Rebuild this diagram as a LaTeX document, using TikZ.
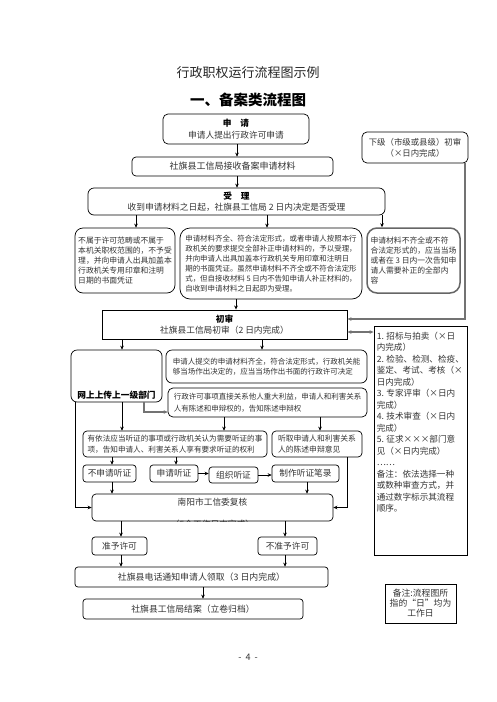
\documentclass[tikz,border=0pt]{standalone}
\usepackage{fontspec}
\setmainfont{Noto Sans CJK SC}
\usetikzlibrary{arrows.meta,calc}
\newcommand\myfs[2]{\fontsize{#1}{#2}\selectfont}
\begin{document}
\begin{tikzpicture}[x=1pt,y=-1pt,
  box/.style={draw=black, line width=0.7pt, rounded corners=4pt, inner sep=0pt, text=black!80, font=\myfs{8.7}{10.5}},
  txt/.style={inner sep=0pt, text=black!80},
  arr/.style={-{Stealth[length=4pt,width=3.6pt]}, line width=0.7pt},
  garr/.style={-{Stealth[length=4pt,width=3.6pt]}, line width=1.1pt, draw=black!55},
  darr/.style={{Stealth[length=4pt,width=3.6pt]}-{Stealth[length=4pt,width=3.6pt]}, line width=1.1pt, draw=black!55}]
\useasboundingbox (0,0) rectangle (496,702);
\fill[white] (0,0) rectangle (496,702);

% titles
\node[txt, text=black!85, font=\myfs{13}{13}] (t1) at (248,73) {行政职权运行流程图示例};
\node[txt, text=black, font=\myfs{14.5}{14.5}\bfseries] (t2) at (248,100) {一、备案类流程图};

% top
\node[box, rounded corners=5pt, minimum width=146, minimum height=30, align=center, font=\myfs{8.7}{12}] (sq) at (236,129) {{\bfseries\color{black}申\quad 请}\\申请人提出行政许可申请};
\node[box, minimum width=201, minimum height=19, font=\myfs{9}{9}] (js) at (232.5,166.5) {社旗县工信局接收备案申请材料};
\node[box, rounded corners=6pt, minimum width=297, minimum height=27, align=center, font=\myfs{8.7}{10.5}] (sl) at (236.5,201.5) {{\bfseries\color{black}受\quad 理}\\收到申请材料之日起，社旗县工信局 2 日内决定是否受理};
\node[box, rounded corners=5pt, minimum width=106, minimum height=31, align=center, font=\myfs{8.4}{11}] (xj) at (415,147.5) {下级（市级或县级）初审\\（×日内完成）};

\node[box, rounded corners=8pt, minimum width=100, minimum height=65, align=left, font=\myfs{7.8}{10.2}] (bA) at (125,260.5) {不属于许可范畴或不属于\\本机关职权范围的，不予受\\理，并向申请人出具加盖本\\行政机关专用印章和注明\\日期的书面凭证};
\node[box, rounded corners=10pt, minimum width=182, minimum height=71, align=left, font=\myfs{7.45}{10}] (bB) at (271,263.5) {申请材料齐全、符合法定形式，或者申请人按照本行\\政机关的要求提交全部补正申请材料的，予以受理，\\并向申请人出具加盖本行政机关专用印章和注明日\\期的书面凭证。虽然申请材料不齐全或不符合法定形\\式，但自接收材料 5 日内不告知申请人补正材料的，\\自收到申请材料之日起即为受理。};
\node[box, draw=black!60, line width=1.5pt, rounded corners=10pt, minimum width=93, minimum height=65, align=left, font=\myfs{7.8}{10.2}] (bC) at (413.5,260.5) {申请材料不齐全或不符\\合法定形式的，应当当场\\或者在 3 日内一次告知申\\请人需要补正的全部内\\容};

% first review
\node[box, rounded corners=0pt, line width=0.9pt, minimum width=245, minimum height=29, align=center, font=\myfs{8.7}{10.5}] (cs) at (224.5,324.5) {{\bfseries\color{black}初审}\\社旗县工信局初审（2 日内完成）};
\node[draw, line width=0.9pt, minimum width=93, minimum height=229, inner sep=0pt] (lst) at (420.5,440.5) {};
\node[txt, anchor=north west, align=left, font=\myfs{8.6}{11.5}] (lstt) at ([xshift=3pt,yshift=-6pt]lst.north west) {1. 招标与拍卖（×日\\内完成）\\2. 检验、检测、检疫、\\鉴定、考试、考核（×\\日内完成）\\3. 专家评审（×日内\\完成）\\4. 技术审查（×日内\\完成）\\5. 征求×××部门意\\见（×日内完成）\\……\\备注：依法选择一种\\或数种审查方式，并\\通过数字标示其流程\\顺序。};

\node[box, rounded corners=6pt, minimum width=91, minimum height=52] (ws) at (116.5,376) {};
\node[inner sep=0pt, text=black, font=\myfs{8.7}{8.7}\bfseries] (wst) at (116.5,395) {网上上传上一级部门};
\node[box, rounded corners=6pt, minimum width=201, minimum height=33, align=left, font=\myfs{7.5}{10.5}] (bD) at (266.5,366.5) {申请人提交的申请材料齐全，符合法定形式，行政机关能\\够当场作出决定的，应当当场作出书面的行政许可决定};
\node[box, rounded corners=5pt, minimum width=199, minimum height=29, align=left, font=\myfs{7.5}{12}] (bE) at (267.5,402.5) {行政许可事项直接关系他人重大利益，申请人和利害关系\\人有陈述和申辩权的，告知陈述申辩权};
\node[box, minimum width=184, minimum height=26, align=left, font=\myfs{7.6}{11}] (bF) at (175,444) {有依法应当听证的事项或行政机关认为需要听证的事\\项，告知申请人、利害关系人享有要求听证的权利};
\node[box, minimum width=90, minimum height=26, align=left, font=\myfs{7.8}{11}] (bG) at (317,444) {听取申请人和利害关系\\人的陈述申辩意见\hspace{8pt}};

% hearing row
\node[box, rounded corners=3pt, minimum width=53, minimum height=17] (h1) at (109.5,473.5) {不申请听证};
\node[box, rounded corners=3pt, minimum width=48, minimum height=17] (h2) at (174,473.5) {申请听证};
\node[box, rounded corners=3pt, minimum width=49, minimum height=16] (h3) at (233.5,475) {组织听证};
\node[box, rounded corners=3pt, minimum width=67, minimum height=17] (h4) at (305.5,473.5) {制作听证笔录};

% review
\node[box, minimum width=241, minimum height=27] (ny) at (212.5,507.5) {};
\node[txt, font=\myfs{8.7}{8.7}] (nyl) at (212.5,502) {南阳市工信委复核};
\begin{scope}
\clip (ny.south west) rectangle (ny.north east);
\node[txt, font=\myfs{8.7}{8.7}] (nyt) at (212.5,524.6) {（5个工作日内完成）};
\end{scope}

\node[box, rounded corners=3pt, minimum width=55, minimum height=18] (zy) at (119.5,546) {准予许可};
\node[box, rounded corners=3pt, minimum width=59, minimum height=18] (bz) at (287.5,546) {不准予许可};
\node[box, rounded corners=3pt, minimum width=253, minimum height=20, font=\myfs{8.9}{8.9}] (dh) at (201.5,577) {社旗县电话通知申请人领取（3 日内完成）};
\node[box, rounded corners=3pt, minimum width=220, minimum height=20, font=\myfs{8.8}{8.8}] (ja) at (193,609) {社旗县工信局结案（立卷归档）};

\node[draw, line width=1pt, rounded corners=0pt, minimum width=71, minimum height=39, inner sep=0pt, align=center, text=black!80, font=\myfs{8.8}{10}] (note) at (420.5,603.5) {备注:流程图所\\指的“日”均为\\工作日};
\node[txt, font=\myfs{9}{9}] (pg) at (248,657) {- \ 4 \ -};

% guide coordinates
\foreach \xx in {75,112,121,122,136,144,176,203,224,236,237,262,267,285,307,320,347,382,465}
  \coordinate (v\xx) at (\xx,0);
\coordinate (r1) at ([yshift=5.5pt]cs.east);
\coordinate (d1) at ([yshift=-7.5pt]cs.east);
\coordinate (e1) at ([yshift=-9.5pt]bE.west);

% connectors
\draw[arr] (v237 |- sq.south) -- (v237 |- js.north);
\draw[arr] (v237 |- js.south) -- (v237 |- sl.north);
\draw[arr] (v136 |- sl.south) -- (v136 |- bA.north);
\draw[arr] (v267 |- sl.south) -- (v267 |- bB.north);
\draw[arr] (v382 |- sl.south) -- (v382 |- bC.north);
\draw[arr] (v236 |- bB.south) -- (v236 |- cs.north);
\draw[garr] (v465 |- xj.south) -- (v465 |- r1) -- (r1);
\draw[darr] (d1) -- (d1 -| lst.west);
\draw[arr] (v122 |- cs.south) -- (v122 |- ws.north);
\draw[arr] (v262 |- cs.south) -- (v262 |- bD.north);
\draw[garr] (v144 |- ws.south) -- (v144 |- e1) -- (e1);
\draw[arr] (v122 |- ws.south) -- (v122 |- bF.north);
\draw[arr] (v224 |- bE.south) -- (v224 |- bF.north);
\draw[arr] (v320 |- bE.south) -- (v320 |- bG.north);
\draw[arr] (v75 |- ws.south) -- (v75 |- ny.west) -- (ny.west);
\draw[arr] (v347 |- bG.south) -- (v347 |- ny.east) -- (ny.east);
\draw[arr] (v112 |- bF.south) -- (v112 |- h1.north);
\draw[arr] (v176 |- bF.south) -- (v176 |- h2.north);
\draw[arr] (h2.east) -- (h2.east -| h3.west);
\draw[arr] (h3.east) -- (h3.east -| h4.west);
\draw[arr] (v112 |- h1.south) -- (v112 |- ny.north);
\draw[arr] (v307 |- h4.south) -- (v307 |- ny.north);
\draw[arr] (v121 |- ny.south) -- (v121 |- zy.north);
\draw[arr] (v285 |- ny.south) -- (v285 |- bz.north);
\draw[arr] (v121 |- zy.south) -- (v121 |- dh.north);
\draw[arr] (v285 |- bz.south) -- (v285 |- dh.north);
\draw[arr] (v203 |- dh.south) -- (v203 |- ja.north);
\end{tikzpicture}
\end{document}
